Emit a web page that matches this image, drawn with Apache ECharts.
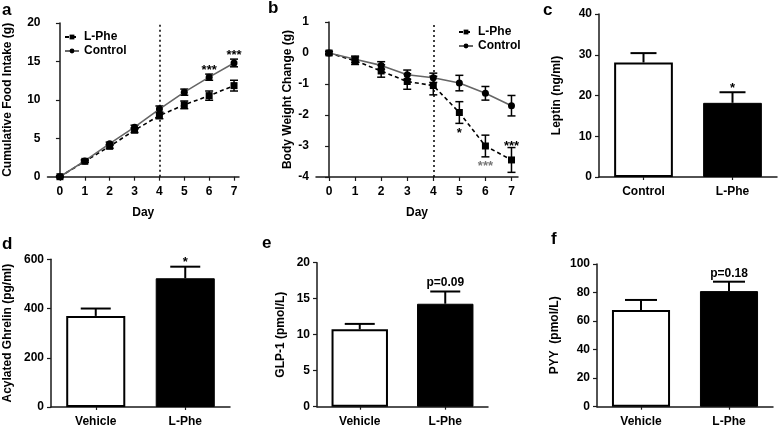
<!DOCTYPE html>
<html><head><meta charset="utf-8">
<script src="https://cdn.jsdelivr.net/npm/echarts@6/dist/echarts.min.js"></script>
<style>html,body{margin:0;padding:0;background:#fff}#c{width:779px;height:428px}</style>
</head><body><div id="c"></div>
<script>
// ---- data ----
var days = [0, 1, 2, 3, 4, 5, 6, 7];
var foodLPhe = [0, 2.0, 3.95, 6.05, 7.95, 9.35, 10.55, 11.85];
var foodLPheErr = [0.1, 0.15, 0.25, 0.3, 0.4, 0.5, 0.6, 0.7];
var foodControl = [0, 2.05, 4.3, 6.45, 8.8, 11.0, 12.95, 14.8];
var foodControlErr = [0.1, 0.15, 0.2, 0.25, 0.4, 0.4, 0.4, 0.5];
var foodStars = ['', '', '', '', '', '', '***', '***'];

var bwLPhe = [0, -0.25, -0.58, -0.92, -1.05, -1.92, -3.0, -3.45];
var bwLPheErr = [0.05, 0.12, 0.2, 0.25, 0.3, 0.35, 0.35, 0.4];
var bwControl = [0, -0.2, -0.4, -0.7, -0.8, -0.97, -1.3, -1.7];
var bwControlErr = [0.05, 0.1, 0.12, 0.15, 0.15, 0.25, 0.22, 0.33];
var bwStarsBelow = ['', '', '', '', '', '*', '***', ''];
var bwStarsAbove = ['', '', '', '', '', '', '', '***'];

var leptinCats = ['Control', 'L-Phe'];
var leptinVals = [28.1, 18.2];
var leptinErr = [2.3, 2.6];
var leptinNotes = ['', '*'];

var hormoneCats = ['Vehicle', 'L-Phe'];
var ghrelinVals = [370, 523];
var ghrelinErr = [30, 47];
var ghrelinNotes = ['', '*'];
var glpVals = [10.75, 14.3];
var glpErr = [0.75, 1.7];
var glpNotes = ['', 'p=0.09'];
var pyyVals = [67.8, 81];
var pyyErr = [7, 6.6];
var pyyNotes = ['', 'p=0.18'];

// ---- helpers ----
var FONT = 'Liberation Sans, Arial, sans-serif';
var AX = '#1a1a1a';
function rows(xs, ys, es) { return ys.map(function (v, i) { return [xs[i], v, es[i]]; }); }

function errSeries(gi, data, capHalf, upperOnly, lw) {
  return {
    type: 'custom', xAxisIndex: gi, yAxisIndex: gi, z: 2, silent: true,
    encode: { x: 0, y: 1 }, data: data,
    renderItem: function (params, api) {
      var x = api.value(0), y = api.value(1), e = api.value(2);
      var c = api.coord([x, y]);
      var t = api.coord([x, y + e]);
      var b = upperOnly ? c : api.coord([x, y - e]);
      var st = { stroke: '#000', lineWidth: lw };
      var ch = [
        { type: 'line', shape: { x1: c[0], y1: b[1], x2: c[0], y2: t[1] }, style: st },
        { type: 'line', shape: { x1: c[0] - capHalf, y1: t[1], x2: c[0] + capHalf, y2: t[1] }, style: st }
      ];
      if (!upperOnly) ch.push({ type: 'line', shape: { x1: c[0] - capHalf, y1: b[1], x2: c[0] + capHalf, y2: b[1] }, style: st });
      return { type: 'group', children: ch };
    }
  };
}

function noteSeries(gi, data, notes, below, gap, size, colorFn) {
  return {
    type: 'custom', xAxisIndex: gi, yAxisIndex: gi, z: 5, silent: true,
    encode: { x: 0, y: 1 }, data: data,
    renderItem: function (params, api) {
      var txt = notes[params.dataIndex];
      if (!txt) return null;
      var x = api.value(0), y = api.value(1), e = api.value(2);
      var p = api.coord([x, below ? y - e : y + e]);
      return {
        type: 'text', x: p[0], y: below ? p[1] + gap : p[1] - gap,
        style: {
          text: txt, textAlign: 'center', textVerticalAlign: 'middle',
          font: 'bold ' + size + 'px ' + FONT,
          fill: colorFn ? colorFn(params.dataIndex) : '#000'
        }
      };
    }
  };
}

function valueY(gi, min, max, interval, name, gap) {
  return {
    type: 'value', gridIndex: gi, min: min, max: max, interval: interval,
    name: name, nameLocation: 'middle', nameRotate: 90, nameGap: gap,
    nameTextStyle: { fontFamily: FONT, fontWeight: 'bold', fontSize: 12, color: '#000' },
    axisLine: { show: true, lineStyle: { color: AX, width: 1.5 } },
    axisTick: { show: true, length: 4, lineStyle: { color: AX, width: 1.2 } },
    axisLabel: { fontFamily: FONT, fontWeight: 'bold', fontSize: 12, color: '#000', margin: 7 },
    splitLine: { show: false }
  };
}
function dayX(gi, min, max) {
  return {
    type: 'value', gridIndex: gi, min: min, max: max,
    name: 'Day', nameLocation: 'middle', nameGap: 30,
    nameTextStyle: { fontFamily: FONT, fontWeight: 'bold', fontSize: 12, color: '#000' },
    axisLine: { show: true, onZero: false, lineStyle: { color: AX, width: 1.5 } },
    axisTick: { show: true, length: 4, customValues: days, lineStyle: { color: AX, width: 1.2 } },
    axisLabel: { customValues: days, fontFamily: FONT, fontWeight: 'bold', fontSize: 12, color: '#000', margin: 9 },
    splitLine: { show: false }
  };
}
function catX(gi, cats) {
  return {
    type: 'category', gridIndex: gi, data: cats,
    axisLine: { show: true, lineStyle: { color: AX, width: 1.5 } },
    axisTick: { show: true, alignWithLabel: true, length: 3, lineStyle: { color: AX, width: 1.2 } },
    axisLabel: { fontFamily: FONT, fontWeight: 'bold', fontSize: 12, color: '#000', margin: 9 },
    splitLine: { show: false }
  };
}
function barSeries(gi, vals) {
  return {
    type: 'bar', xAxisIndex: gi, yAxisIndex: gi, barWidth: '66%', z: 1, silent: true,
    data: vals.map(function (v, i) {
      return {
        value: v,
        itemStyle: i === 0 ? { color: '#fff', borderColor: '#000', borderWidth: 2 } : { color: '#000', borderColor: '#000', borderWidth: 1 }
      };
    })
  };
}
function lineSeries(gi, name, ys, dashed, withMark) {
  var s = {
    type: 'line', name: name, xAxisIndex: gi, yAxisIndex: gi, z: 3,
    data: ys.map(function (v, i) { return [days[i], v]; }),
    symbol: dashed ? 'rect' : 'circle', symbolSize: 7, showSymbol: true,
    itemStyle: { color: '#000' },
    lineStyle: { color: dashed ? '#000' : '#666', width: 1.6, type: dashed ? [4, 3] : 'solid' }
  };
  if (withMark) {
    s.markLine = {
      symbol: 'none', silent: true, label: { show: false },
      lineStyle: { type: [2, 3], color: '#000', width: 1.5 },
      data: [{ xAxis: 4 }]
    };
  }
  return s;
}

var chart = echarts.init(document.getElementById('c'), null, { renderer: 'canvas' });
var legendText = { fontFamily: FONT, fontWeight: 'bold', fontSize: 12, color: '#000', lineHeight: 12 };
var option = {
  animation: false,
  backgroundColor: '#fff',
  textStyle: { fontFamily: FONT },
  grid: [
    { left: 47.5, top: 23, width: 191.5, height: 153.7 },
    { left: 316, top: 22, width: 202, height: 155 },
    { left: 599, top: 14, width: 178, height: 163 },
    { left: 51, top: 259.3, width: 179, height: 148 },
    { left: 317, top: 262.7, width: 171, height: 144 },
    { left: 597, top: 264, width: 176, height: 142.7 }
  ],
  legend: [
    { data: ['L-Phe', 'Control'], orient: 'vertical', left: 59, top: 26, itemWidth: 14, itemHeight: 6, itemGap: 2,
      selectedMode: false, textStyle: legendText },
    { data: ['L-Phe', 'Control'], orient: 'vertical', left: 453, top: 21, itemWidth: 14, itemHeight: 6, itemGap: 2,
      selectedMode: false, textStyle: legendText }
  ],
  xAxis: [
    dayX(0, -0.5, 7.2),
    dayX(1, -0.5, 7.25),
    catX(2, leptinCats),
    catX(3, hormoneCats),
    catX(4, hormoneCats),
    catX(5, hormoneCats)
  ],
  yAxis: [
    valueY(0, 0, 20, 5, 'Cumulative Food Intake (g)', 34),
    valueY(1, -4, 1, 1, 'Body Weight Change (g)', 22),
    valueY(2, 0, 40, 10, 'Leptin (ng/ml)', 36),
    valueY(3, 0, 600, 200, 'Acylated Ghrelin (pg/ml)', 37),
    valueY(4, 0, 20, 5, 'GLP-1 (pmol/L)', 30),
    valueY(5, 0, 100, 20, 'PYY  (pmol/L)', 36)
  ],
  series: [
    // a
    errSeries(0, rows(days, foodLPhe, foodLPheErr), 4, false, 1.5),
    errSeries(0, rows(days, foodControl, foodControlErr), 4, false, 1.5),
    lineSeries(0, 'L-Phe', foodLPhe, true, true),
    lineSeries(0, 'Control', foodControl, false, false),
    noteSeries(0, rows(days, foodControl, foodControlErr), foodStars, false, 4, 13),
    // b
    errSeries(1, rows(days, bwLPhe, bwLPheErr), 4, false, 1.5),
    errSeries(1, rows(days, bwControl, bwControlErr), 4, false, 1.5),
    lineSeries(1, 'L-Phe', bwLPhe, true, true),
    lineSeries(1, 'Control', bwControl, false, false),
    noteSeries(1, rows(days, bwLPhe, bwLPheErr), bwStarsBelow, true, 10, 13, function (i) { return i === 6 ? '#777' : '#000'; }),
    noteSeries(1, rows(days, bwLPhe, bwLPheErr), bwStarsAbove, false, 1, 13),
    // c
    barSeries(2, leptinVals),
    errSeries(2, rows([0, 1], leptinVals, leptinErr), 13, true, 2),
    noteSeries(2, rows([0, 1], leptinVals, leptinErr), leptinNotes, false, 4, 13),
    // d
    barSeries(3, ghrelinVals),
    errSeries(3, rows([0, 1], ghrelinVals, ghrelinErr), 15, true, 2),
    noteSeries(3, rows([0, 1], ghrelinVals, ghrelinErr), ghrelinNotes, false, 4, 13),
    // e
    barSeries(4, glpVals),
    errSeries(4, rows([0, 1], glpVals, glpErr), 15, true, 2),
    noteSeries(4, rows([0, 1], glpVals, glpErr), glpNotes, false, 9, 12),
    // f
    barSeries(5, pyyVals),
    errSeries(5, rows([0, 1], pyyVals, pyyErr), 16, true, 2),
    noteSeries(5, rows([0, 1], pyyVals, pyyErr), pyyNotes, false, 8, 12)
  ],
  graphic: [
    { type: 'text', left: 2, top: 2, style: { text: 'a', font: 'bold 17px ' + FONT, fill: '#000' } },
    { type: 'text', left: 268, top: 0, style: { text: 'b', font: 'bold 17px ' + FONT, fill: '#000' } },
    { type: 'text', left: 543, top: 2, style: { text: 'c', font: 'bold 17px ' + FONT, fill: '#000' } },
    { type: 'text', left: 2, top: 236, style: { text: 'd', font: 'bold 17px ' + FONT, fill: '#000' } },
    { type: 'text', left: 262, top: 235, style: { text: 'e', font: 'bold 17px ' + FONT, fill: '#000' } },
    { type: 'text', left: 551, top: 231, style: { text: 'f', font: 'bold 17px ' + FONT, fill: '#000' } }
  ]
};
chart.setOption(option);
</script>
</body></html>
